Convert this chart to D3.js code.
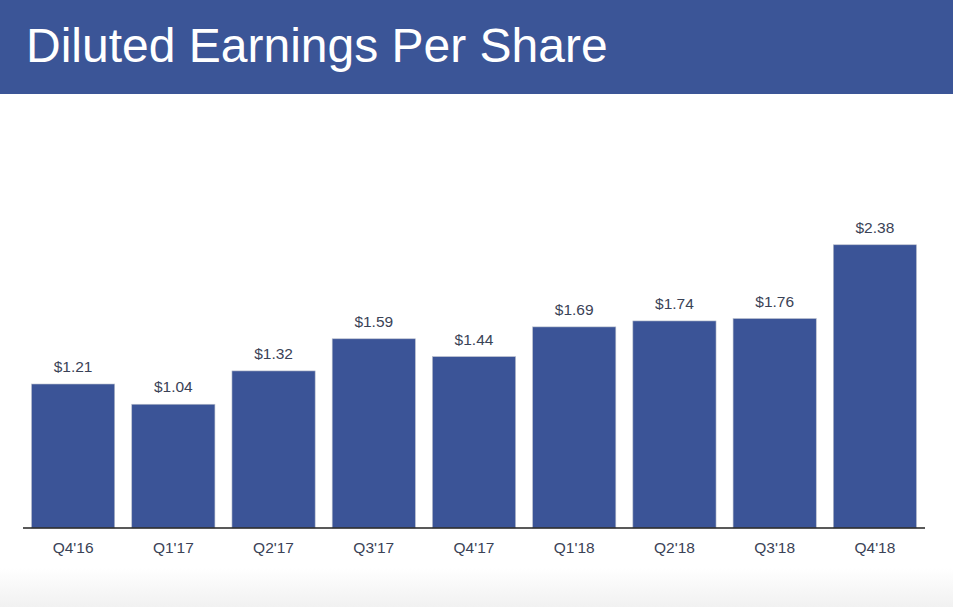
<!DOCTYPE html>
<html>
<head>
<meta charset="utf-8">
<script src="https://cdn.jsdelivr.net/npm/d3@7"></script>
<style>
  html, body { margin: 0; padding: 0; background: #fff; }
  svg { display: block; }
</style>
</head>
<body>
<div id="dataViz"></div>
<script>
/* data */
const quarters = ["Q4'16", "Q1'17", "Q2'17", "Q3'17", "Q4'17", "Q1'18", "Q2'18", "Q3'18", "Q4'18"];
const eps = [1.21, 1.04, 1.32, 1.59, 1.44, 1.69, 1.74, 1.76, 2.38];
const title = "Diluted Earnings Per Share";

const W = 953, H = 607;
const barColor = "#3b5497", textColor = "#3a4256";
const font = "'Liberation Sans', Arial, sans-serif";

const svg = d3.select("#dataViz")
            .append("svg")
            .attr("width", W)
            .attr("height", H);

/* faint grey fade at the bottom of the slide */
const defs = svg.append("defs");
const fade = defs.append("linearGradient")
                 .attr("id", "fade")
                 .attr("x1", 0).attr("y1", 0).attr("x2", 0).attr("y2", 1);
fade.append("stop").attr("offset", "0%").attr("stop-color", "#ffffff");
fade.append("stop").attr("offset", "100%").attr("stop-color", "#f1f1f1");
svg.append("rect")
   .attr("x", 0).attr("y", 568)
   .attr("width", W).attr("height", H - 568)
   .attr("fill", "url(#fade)");

/* header band */
svg.append("rect")
   .attr("x", 0).attr("y", 0)
   .attr("width", W).attr("height", 94)
   .attr("fill", "#3b5597");
svg.append("text")
   .attr("x", 26).attr("y", 62)
   .attr("fill", "#fff")
   .style("font-family", font)
   .style("font-size", "48px")
   .text(title);

/* scales */
const baseY = 528;
const x = d3.scaleBand()
            .domain(quarters)
            .range([23, 925])
            .paddingInner(0.17)
            .paddingOuter(0.085);
const y = d3.scaleLinear()
            .domain([0, 2.38])
            .range([baseY, baseY - 2.38 * 119]);

const g = svg.append("g");

// bars
g.selectAll("rect.bar")
 .data(eps)
 .enter()
 .append("rect")
 .attr("class", "bar")
 .attr("x", (d, i) => x(quarters[i]))
 .attr("y", d => y(d))
 .attr("width", x.bandwidth())
 .attr("height", d => y(0) - y(d))
 .attr("fill", barColor)
 .attr("stroke", "#b9bfcc")
 .attr("stroke-width", 0.6);

// value labels
g.selectAll("text.val")
 .data(eps)
 .enter()
 .append("text")
 .attr("class", "val")
 .attr("x", (d, i) => x(quarters[i]) + x.bandwidth() / 2)
 .attr("y", d => y(d) - 12)
 .attr("text-anchor", "middle")
 .attr("fill", textColor)
 .style("font-family", font)
 .style("font-size", "15.5px")
 .text(d => "$" + d.toFixed(2));

/* x axis */
const axis = svg.append("g")
                .attr("transform", `translate(0, ${baseY})`)
                .call(d3.axisBottom(x).tickSize(0).tickPadding(14));
axis.select(".domain")
    .attr("d", "M23,0H925")
    .attr("stroke", "#222")
    .attr("stroke-width", 1.5);
axis.selectAll("text")
    .attr("fill", textColor)
    .style("font-family", font)
    .style("font-size", "15.5px");
</script>
</body>
</html>
